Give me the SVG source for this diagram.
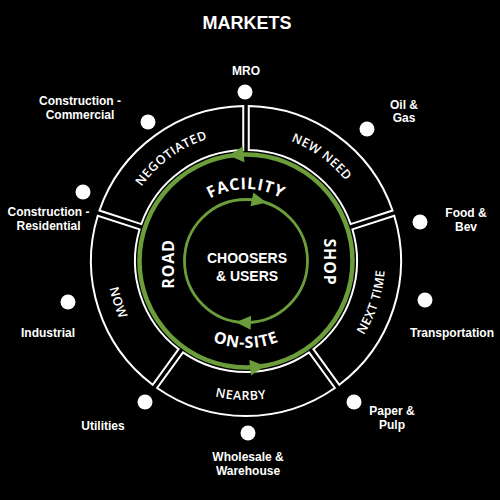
<svg xmlns="http://www.w3.org/2000/svg" width="500" height="500" viewBox="0 0 500 500">
<style>
.seg{fill:#000;stroke:#fff;stroke-width:2;stroke-linejoin:miter}
.dot{fill:#fff}
.lbl{fill:#fff;font-family:"Liberation Sans",Arial,sans-serif;font-weight:bold;font-size:12px;text-anchor:middle}
.ring{fill:#fff;font-family:"Open Sans","Liberation Sans",sans-serif;font-weight:bold;font-size:16px;letter-spacing:0.8px}
.segt{fill:#fff;font-family:"Open Sans","Liberation Sans",sans-serif;font-weight:600;font-size:12.5px;letter-spacing:0.5px}
.gc{fill:none;stroke:#6b9e3a}
.ah{fill:#6b9e3a}
</style>
<defs>
<path id="pFac" d="M174,261 A72,72 0 0 1 318,261"/>
<path id="pOn" d="M159,261 A87,87 0 0 0 333,261"/>
<path id="pNeg" d="M124.26,221.45 A128,128 0 0 1 246,133"/>
<path id="pNew" d="M246,133 A128,128 0 0 1 367.74,221.45"/>
<path id="pNext" d="M327.70,373.45 A139,139 0 0 0 378.20,218.05"/>
<path id="pNear" d="M164.30,373.45 A139,139 0 0 0 327.70,373.45"/>
<path id="pNow" d="M113.80,218.05 A139,139 0 0 0 164.30,373.45"/>
<polygon id="arrOut" points="-8,0 7,-8 7,8"/>
<polygon id="arrIn" points="8,0 -7,-7 -7,7"/>
</defs>
<rect width="500" height="500" fill="#000"/>
<text x="247" y="29" class="lbl" style="font-size:18px">MARKETS</text>

<g id="seg-new-need">
<path class="seg" d="M248.75,106.02 A155,155 0 0 1 392.54,210.49 L350.69,224.10 A111,111 0 0 0 248.75,150.03 Z"/>
<text class="segt"><textPath href="#pNew" startOffset="50%" text-anchor="middle">NEW NEED</textPath></text>
</g>
<g id="seg-next-time">
<path class="seg" d="M394.24,215.73 A155,155 0 0 1 339.32,384.76 L313.45,349.16 A111,111 0 0 0 352.38,229.33 Z"/>
<text class="segt"><textPath href="#pNext" startOffset="50%" text-anchor="middle">NEXT TIME</textPath></text>
</g>
<g id="seg-nearby">
<path class="seg" d="M334.87,387.99 A155,155 0 0 1 157.13,387.99 L183.00,352.39 A111,111 0 0 0 309.00,352.39 Z"/>
<text class="segt"><textPath href="#pNear" startOffset="47%" text-anchor="middle">NEARBY</textPath></text>
</g>
<g id="seg-now">
<path class="seg" d="M152.68,384.76 A155,155 0 0 1 97.76,215.73 L139.62,229.33 A111,111 0 0 0 178.55,349.16 Z"/>
<text class="segt"><textPath href="#pNow" startOffset="50%" text-anchor="middle">NOW</textPath></text>
</g>
<g id="seg-negotiated">
<path class="seg" d="M99.46,210.49 A155,155 0 0 1 243.25,106.02 L243.25,150.03 A111,111 0 0 0 141.31,224.10 Z"/>
<text class="segt"><textPath href="#pNeg" startOffset="50%" text-anchor="middle">NEGOTIATED</textPath></text>
</g>

<g id="connectors">
<circle class="gc" cx="246" cy="261" r="106.5" stroke-width="4.5"/>
<use href="#arrOut" class="ah" transform="rotate(-5 246 261) translate(246 154.5)"/>
<use href="#arrOut" class="ah" transform="rotate(174 246 261) translate(246 154.5)"/>
<circle class="gc" cx="246" cy="261" r="61.5" stroke-width="2.8"/>
<use href="#arrIn" class="ah" transform="rotate(12 246 261) translate(246 199.5)"/>
<use href="#arrIn" class="ah" transform="rotate(182 246 261) translate(246 199.5)"/>
</g>

<g id="ring-labels">
<text class="ring"><textPath href="#pFac" startOffset="50%" text-anchor="middle">FACILITY</textPath></text>
<text class="ring"><textPath href="#pOn" startOffset="50%" text-anchor="middle">ON-SITE</textPath></text>
<text class="ring" text-anchor="middle" transform="translate(324 262) rotate(90)">SHOP</text>
<text class="ring" text-anchor="middle" transform="translate(174 264) rotate(-90)">ROAD</text>
</g>

<g id="center">
<text class="lbl" style="font-size:14px" x="247" y="263">CHOOSERS</text>
<text class="lbl" style="font-size:14px" x="247" y="281">&amp; USERS</text>
</g>

<g id="m-mro"><circle class="dot" cx="245" cy="92" r="7.5"/><text class="lbl" x="246" y="74.5">MRO</text></g>
<g id="m-oil"><circle class="dot" cx="367" cy="129" r="7.5"/><text class="lbl" x="404" y="108.5">Oil &amp;</text><text class="lbl" x="404" y="122">Gas</text></g>
<g id="m-food"><circle class="dot" cx="420" cy="222" r="7.5"/><text class="lbl" x="466" y="217">Food &amp;</text><text class="lbl" x="466" y="231">Bev</text></g>
<g id="m-transport"><circle class="dot" cx="425" cy="300" r="7.5"/><text class="lbl" x="452" y="337">Transportation</text></g>
<g id="m-paper"><circle class="dot" cx="354" cy="402" r="7.5"/><text class="lbl" x="392" y="415">Paper &amp;</text><text class="lbl" x="392" y="428.5">Pulp</text></g>
<g id="m-wholesale"><circle class="dot" cx="248" cy="433" r="7.5"/><text class="lbl" x="248" y="461">Wholesale &amp;</text><text class="lbl" x="248" y="475">Warehouse</text></g>
<g id="m-utilities"><circle class="dot" cx="145" cy="402" r="7.5"/><text class="lbl" x="103" y="430">Utilities</text></g>
<g id="m-industrial"><circle class="dot" cx="68" cy="302" r="7.5"/><text class="lbl" x="48" y="337">Industrial</text></g>
<g id="m-residential"><circle class="dot" cx="83" cy="192" r="7.5"/><text class="lbl" x="48.5" y="216">Construction -</text><text class="lbl" x="48.5" y="230">Residential</text></g>
<g id="m-commercial"><circle class="dot" cx="148" cy="122" r="7.5"/><text class="lbl" x="80" y="104.5">Construction -</text><text class="lbl" x="80" y="118.5">Commercial</text></g>
</svg>
